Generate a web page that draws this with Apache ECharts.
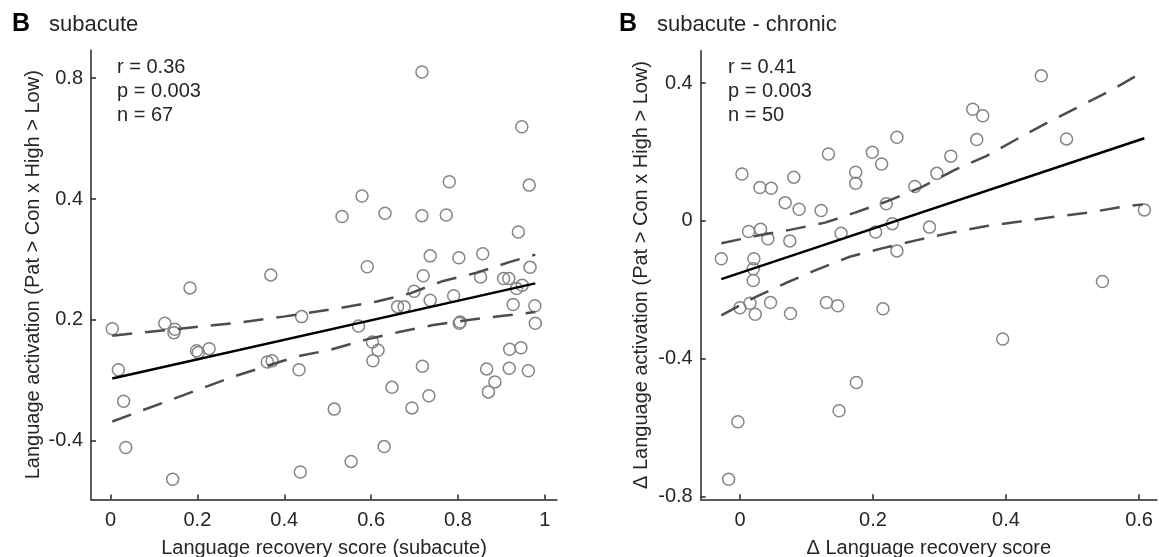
<!DOCTYPE html>
<html><head><meta charset="utf-8">
<script src="https://cdn.jsdelivr.net/npm/echarts@6/dist/echarts.min.js"></script>
<style>html,body{margin:0;padding:0;background:#fff}#c{width:1159px;height:557px}</style>
</head><body><div id="c"></div>
<script>
// ---------- Panel 1: subacute ----------
const leftTitle = 'subacute';
const leftStats = ['r = 0.36', 'p = 0.003', 'n = 67'];
const leftXName = 'Language recovery score (subacute)';
const leftYName = 'Language activation (Pat > Con x High > Low)';
const leftXTickValues = [0, 0.2, 0.4, 0.6, 0.8, 1];
const leftXTickLabels = ['0', '0.2', '0.4', '0.6', '0.8', '1'];
const leftYTickValues = [-0.4, 0, 0.4, 0.8];
const leftYTickLabels = ['-0.4', '0.2', '0.4', '0.8'];
const leftRecovery = [0.004,0.125,0.148,0.146,0.183,0.198,0.202,0.227,0.018,0.030,0.035,0.143,
  0.369,0.440,0.361,0.372,0.434,0.515,0.437,0.554,0.630,0.533,0.579,0.632,0.591,0.571,0.603,0.616,
  0.604,0.648,0.661,0.676,0.717,0.947,0.780,0.964,0.717,0.773,0.939,0.736,0.802,0.857,0.720,0.699,
  0.852,0.905,0.917,0.966,0.935,0.948,0.736,0.790,0.927,0.977,0.803,0.805,0.978,0.718,0.733,0.694,
  0.866,0.885,0.870,0.919,0.945,0.918,0.962];
const leftActivation = [-0.029,-0.011,-0.031,-0.042,0.106,-0.102,-0.108,-0.095,-0.165,-0.269,-0.422,-0.527,
  0.149,0.011,-0.139,-0.135,-0.165,-0.295,-0.503,-0.468,-0.419,0.342,0.410,0.353,0.176,-0.020,-0.073,-0.100,
  -0.135,-0.223,0.044,0.044,0.820,0.639,0.457,0.446,0.345,0.347,0.291,0.212,0.206,0.219,0.146,0.095,
  0.142,0.137,0.137,0.174,0.104,0.115,0.065,0.080,0.051,0.047,-0.011,-0.007,-0.011,-0.153,-0.251,-0.291,
  -0.162,-0.205,-0.238,-0.097,-0.092,-0.160,-0.168];
const leftFitX = [0.004, 0.978];
const leftFitY = [-0.194, 0.121];
const leftUpperX = [0.004,0.294,0.398,0.528,0.613,0.690,0.766,0.843,0.920,0.978];
const leftUpperY = [-0.052,-0.009,0.011,0.039,0.061,0.088,0.129,0.156,0.192,0.216];
const leftLowerX = [0.004,0.282,0.429,0.505,0.586,0.667,0.743,0.824,0.905,0.978];
const leftLowerY = [-0.336,-0.188,-0.121,-0.099,-0.066,-0.039,-0.017,0.000,0.014,0.026];

// ---------- Panel 2: subacute - chronic ----------
const rightTitle = 'subacute - chronic';
const rightStats = ['r = 0.41', 'p = 0.003', 'n = 50'];
const rightXName = 'Δ Language recovery score';
const rightYName = 'Δ Language activation (Pat > Con x High > Low)';
const rightXTickValues = [0, 0.2, 0.4, 0.6];
const rightXTickLabels = ['0', '0.2', '0.4', '0.6'];
const rightYTickValues = [-0.8, -0.4, 0, 0.4];
const rightYTickLabels = ['-0.8', '-0.4', '0', '0.4'];
const rightRecovery = [-0.017,-0.003,-0.028,0.003,0.030,0.047,0.081,0.133,0.068,0.089,0.122,0.174,0.174,
  0.013,0.031,0.042,0.075,0.152,0.021,0.020,0.020,0.000,0.015,0.023,0.046,0.076,0.130,0.147,0.175,0.149,
  0.199,0.213,0.236,0.220,0.263,0.296,0.317,0.350,0.365,0.356,0.204,0.229,0.285,0.236,0.215,0.395,
  0.453,0.491,0.608,0.545];
const rightActivation = [-0.750,-0.583,-0.110,0.136,0.097,0.095,0.127,0.194,0.053,0.034,0.030,0.141,0.109,
  -0.031,-0.024,-0.052,-0.058,-0.036,-0.110,-0.139,-0.173,-0.252,-0.239,-0.271,-0.237,-0.269,-0.237,-0.246,-0.469,-0.551,
  0.199,0.165,0.243,0.050,0.100,0.138,0.188,0.324,0.305,0.236,-0.032,-0.008,-0.018,-0.087,-0.255,-0.343,
  0.421,0.238,0.032,-0.176];
const rightFitX = [-0.028, 0.608];
const rightFitY = [-0.169, 0.240];
const rightUpperX = [-0.028,0.023,0.075,0.128,0.173,0.223,0.273,0.323,0.371,0.416,0.461,0.508,0.556,0.604];
const rightUpperY = [-0.065,-0.044,-0.026,-0.005,0.024,0.058,0.098,0.148,0.189,0.237,0.284,0.330,0.377,0.430];
const rightLowerX = [-0.028,0.020,0.068,0.115,0.165,0.215,0.268,0.318,0.371,0.421,0.473,0.526,0.579,0.606];
const rightLowerY = [-0.274,-0.224,-0.181,-0.142,-0.104,-0.079,-0.055,-0.034,-0.015,-0.002,0.012,0.025,0.042,0.048];

// ---------- build ----------
const FONT = "'Liberation Sans', Arial, sans-serif";
const AX = '#262626';
const zip = (a, b) => a.map((v, i) => [v, b[i]]);
const labelFrom = (vals, labels) => v => {
  const i = vals.findIndex(t => Math.abs(t - v) < 1e-9);
  return i >= 0 ? labels[i] : '';
};

function xAxis(gi, min, max, vals, labels, name) {
  return {
    type: 'value', gridIndex: gi, min, max, name, nameLocation: 'middle', nameGap: 39,
    nameTextStyle: { fontFamily: FONT, fontSize: 20, color: AX },
    axisLine: { show: true, onZero: false, lineStyle: { color: AX, width: 1.5 } },
    axisTick: { show: true, inside: true, length: 5, customValues: vals, lineStyle: { color: AX, width: 1.5 } },
    axisLabel: { customValues: vals, formatter: labelFrom(vals, labels), margin: 11, fontFamily: FONT, fontSize: 20, color: AX },
    splitLine: { show: false }
  };
}
function yAxis(gi, min, max, vals, labels, name, gap) {
  return {
    type: 'value', gridIndex: gi, min, max, name, nameLocation: 'middle', nameGap: gap,
    nameTextStyle: { fontFamily: FONT, fontSize: 20, color: AX },
    axisLine: { show: true, onZero: false, lineStyle: { color: AX, width: 1.5 } },
    axisTick: { show: true, inside: true, length: 5, customValues: vals, lineStyle: { color: AX, width: 1.5 } },
    axisLabel: { customValues: vals, formatter: labelFrom(vals, labels), margin: 8, fontFamily: FONT, fontSize: 20, color: AX },
    splitLine: { show: false }
  };
}
function panelSeries(gi, xs, ys, fx, fy, ux, uy, lx, ly) {
  const line = (d, dashed) => ({
    type: 'line', xAxisIndex: gi, yAxisIndex: gi, data: d, symbol: 'none', silent: true,
    lineStyle: dashed ? { color: '#4d4d4d', width: 2.5, type: [20, 13] } : { color: '#000', width: 2.5 },
    z: 3
  });
  return [
    { type: 'scatter', xAxisIndex: gi, yAxisIndex: gi, data: zip(xs, ys), symbol: 'circle', symbolSize: 12,
      itemStyle: { color: 'rgba(0,0,0,0)', borderColor: '#858585', borderWidth: 1.5, opacity: 1 }, z: 2 },
    line(zip(fx, fy), false),
    line(zip(ux, uy), true),
    line(zip(lx, ly), true)
  ];
}
function txt(x, y, text, size, bold) {
  return { type: 'text', x, y, style: { text, fill: bold ? '#000' : AX, font: (bold ? 'bold ' : '') + size + 'px ' + FONT, verticalAlign: 'middle' } };
}
const statLines = (x, arr) => arr.map((s, i) => txt(x, 67 + i * 24, s, 20, false));

const chart = echarts.init(document.getElementById('c'), null, { renderer: 'canvas' });
chart.setOption({
  animation: false,
  backgroundColor: '#fff',
  grid: [
    { left: 91, top: 50, width: 466, height: 449.5, outerBoundsMode: 'none', containLabel: false },
    { left: 700.7, top: 50.7, width: 456.3, height: 448.6, outerBoundsMode: 'none', containLabel: false }
  ],
  xAxis: [
    xAxis(0, -0.045, 1.028, leftXTickValues, leftXTickLabels, leftXName),
    xAxis(1, -0.059, 0.627, rightXTickValues, rightXTickLabels, rightXName)
  ],
  yAxis: [
    yAxis(0, -0.594, 0.893, leftYTickValues, leftYTickLabels, leftYName, 48),
    yAxis(1, -0.808, 0.494, rightYTickValues, rightYTickLabels, rightYName, 49)
  ],
  series: [
    ...panelSeries(0, leftRecovery, leftActivation, leftFitX, leftFitY, leftUpperX, leftUpperY, leftLowerX, leftLowerY),
    ...panelSeries(1, rightRecovery, rightActivation, rightFitX, rightFitY, rightUpperX, rightUpperY, rightLowerX, rightLowerY)
  ],
  graphic: [
    txt(12, 24, 'B', 25, true),
    txt(49, 25, leftTitle, 22, false),
    txt(619, 24, 'B', 25, true),
    txt(657, 25, rightTitle, 22, false),
    ...statLines(117, leftStats),
    ...statLines(728, rightStats)
  ]
});
</script></body></html>
